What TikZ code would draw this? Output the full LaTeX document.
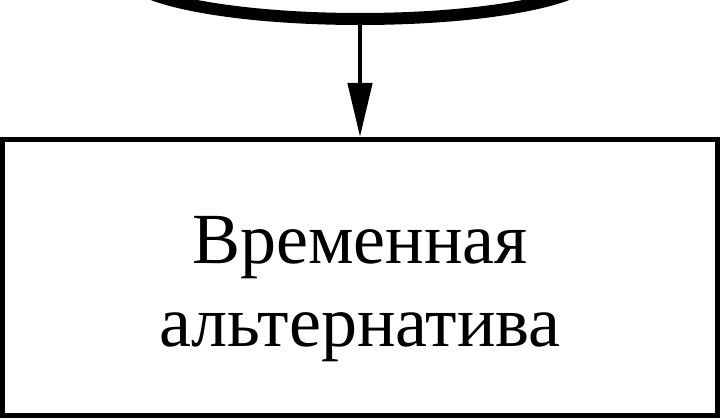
\documentclass[tikz,border=0pt]{standalone}
\usepackage{fontspec}
\setmainfont{Liberation Serif}
\usetikzlibrary{shapes.geometric,arrows.meta}
\begin{document}
\begin{tikzpicture}[x=1pt,y=1pt,
  topshape/.style={draw,ellipse,line width=12pt,minimum width=468pt,minimum height=92pt,inner sep=0pt},
  boxshape/.style={draw,rectangle,line width=5pt,minimum width=715pt,minimum height=276pt,inner sep=0pt,align=center,font=\fontsize{72}{83}\selectfont},
  conn/.style={line width=4.5pt,-{Triangle[length=54pt,width=24pt]}}]
\useasboundingbox (0,0) rectangle (720,420);
\node[topshape] (top) at (360,447) {};
\node[boxshape] (box) at (360,142.5) {\rule{0pt}{70pt}Временная\\альтернатива};
\draw[conn] (top.south) -- (box.north);
\end{tikzpicture}
\end{document}
